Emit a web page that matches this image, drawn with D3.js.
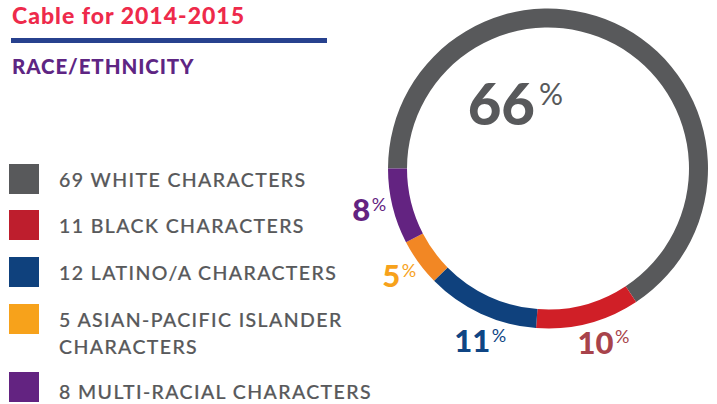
<!DOCTYPE html>
<html>
<head>
<meta charset="utf-8">
<script src="https://cdn.jsdelivr.net/npm/d3@7"></script>
<style>
  html, body { margin: 0; padding: 0; background: #fff; }
  svg { display: block; font-family: Lato, "Open Sans", sans-serif; }
</style>
</head>
<body>
<svg id="chart" width="717" height="404"></svg>
<script>
// ---- data ----
const categories = ["WHITE", "BLACK", "LATINO/A", "ASIAN-PACIFIC ISLANDER", "MULTI-RACIAL"];
const counts = [69, 11, 12, 5, 8];
const percentLabels = ["66", "10", "11", "5", "8"];
const legendLines = [
  ["69 WHITE CHARACTERS"],
  ["11 BLACK CHARACTERS"],
  ["12 LATINO/A CHARACTERS"],
  ["5 ASIAN-PACIFIC ISLANDER", "CHARACTERS"],
  ["8 MULTI-RACIAL CHARACTERS"]
];
const title = "Cable for 2014-2015";
const subtitle = "RACE/ETHNICITY";

// ---- styles / layout ----
const arcColors = ["#58595b", "#d01f27", "#0f417d", "#f28724", "#632381"];
const legendColors = ["#58595b", "#be1e2d", "#0f417d", "#f7a21b", "#632381"];
const labelColors = ["#58595b", "#a8434b", "#0f4584", "#f7a21b", "#632381"];
const legendTops = [164, 210, 257, 304, 372];
const legendBaseOff = [23, 23, 23, 23, 27];
const labelNudge = [null, [19, 6], [20, 16], [2, 10], [2, 9]];

const svg = d3.select("#chart");
const cx = 548, cy = 168.5, rOuter = 160, rInner = 141;

// title
svg.append("text").attr("x", 12).attr("y", 23.5)
  .attr("fill", "#ee2a4b").attr("font-weight", 900).attr("font-size", 23)
  .attr("letter-spacing", 1.0)
  .text(title);
svg.append("rect").attr("x", 11).attr("y", 38).attr("width", 316).attr("height", 5)
  .attr("fill", "#27418e");
svg.append("text").attr("x", 12).attr("y", 73.5)
  .attr("fill", "#5e2583").attr("font-weight", 900).attr("font-size", 20.5)
  .attr("letter-spacing", 0.9)
  .text(subtitle);

// legend
const leg = svg.append("g");
categories.forEach((c, i) => {
  leg.append("rect").attr("x", 9).attr("y", legendTops[i]).attr("width", 30).attr("height", 30)
    .attr("fill", legendColors[i]);
  const t = leg.append("text").attr("x", 59).attr("y", legendTops[i] + legendBaseOff[i])
    .attr("fill", "#58595b").attr("stroke", "#58595b").attr("stroke-width", 0.2)
    .attr("font-size", 19.5).attr("font-weight", 500)
    .attr("letter-spacing", 1.4);
  legendLines[i].forEach((line, j) => {
    t.append("tspan").attr("x", 59).attr("dy", j === 0 ? 0 : 26.7).text(line);
  });
});

// donut
const pie = d3.pie().sort(null).value(d => d)
  .startAngle(-Math.PI / 2).endAngle(3 * Math.PI / 2);
const arcs = pie(counts);
const arc = d3.arc().innerRadius(rInner).outerRadius(rOuter);
const g = svg.append("g").attr("transform", `translate(${cx},${cy})`);
g.selectAll("path").data(arcs).join("path")
  .attr("d", arc).attr("fill", (d, i) => arcColors[i]);

// labels
const labelArc = d3.arc().innerRadius(185).outerRadius(185);
arcs.forEach((d, i) => {
  let x, y, big = i === 0;
  if (big) { x = -13; y = -43.5; }
  else {
    const c = labelArc.centroid(d);
    x = c[0] + labelNudge[i][0];
    y = c[1] + labelNudge[i][1];
  }
  const numSize = big ? 58 : 31;
  const pctSize = big ? 30 : 18;
  const pctRaise = big ? 20 : 10.5;
  g.append("text").attr("x", x).attr("y", y).attr("text-anchor", "end")
    .attr("fill", labelColors[i]).attr("font-weight", 900).attr("font-size", numSize)
    .text(percentLabels[i]);
  g.append("text").attr("x", x + (big ? 4 : 1.5)).attr("y", y - pctRaise)
    .attr("fill", labelColors[i]).attr("font-weight", 400).attr("font-size", pctSize)
    .text("%");
});
</script>
</body>
</html>
